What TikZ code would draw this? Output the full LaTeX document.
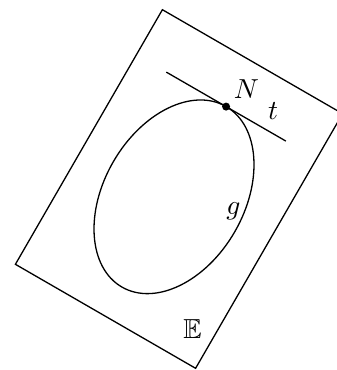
\documentclass[tikz,border=0pt]{standalone}
\usepackage{amssymb}
\begin{document}
\begin{tikzpicture}[x=1pt,y=-1pt,line width=1.3pt,
  lbl/.style={inner sep=0pt,font=\fontsize{10}{12}\selectfont,scale=2.75,transform shape},
  dotnode/.style={circle,fill,inner sep=0pt,minimum size=8pt}]
\useasboundingbox (0,0) rectangle (337,370);
\clip (0,0) rectangle (337,370);
% plane E
\coordinate (P1) at (162.4,9.7);
\coordinate (P2) at (342.6,113.7);
\coordinate (P3) at (195.6,368.3);
\coordinate (P4) at (15.4,264.3);
\draw (P1) -- (P2) -- (P3) -- (P4) -- cycle;
% ellipse g
\coordinate (O) at (174,196.8);
\draw[rotate around={60:(O)}] (O) ellipse [x radius=104.2, y radius=70.1];
% tangent t at N
\coordinate (T1) at (166.3,72.1);
\coordinate (T2) at (285.9,141.1);
\draw (T1) -- (T2);
\node[dotnode] (N) at (226.1,106.6) {};
% labels
\node[lbl] (lN) at (246.5,89) {$N$};
\node[lbl] (lt) at (273,111) {$t$};
\node[lbl] (lg) at (233.5,211) {$g$};
\node[lbl] (lE) at (192.5,329.5) {$\mathbb{E}$};
\end{tikzpicture}
\end{document}
